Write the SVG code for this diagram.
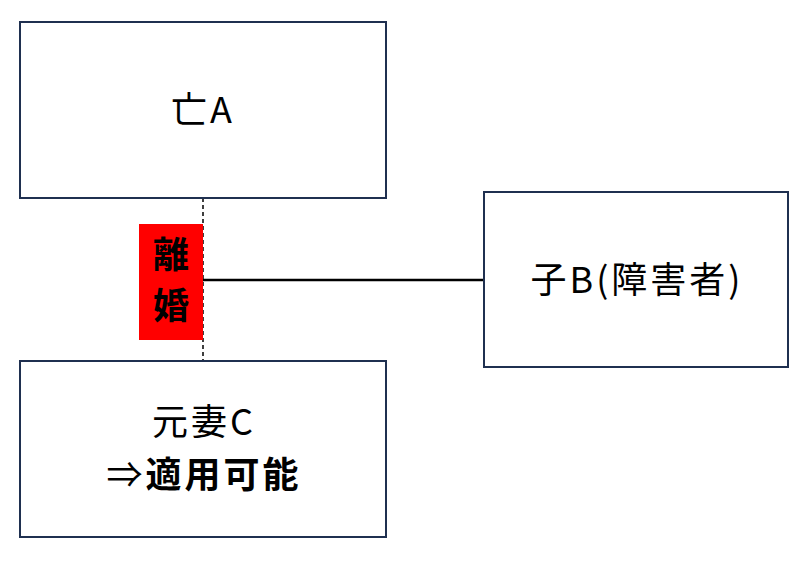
<svg xmlns="http://www.w3.org/2000/svg" width="798" height="574" viewBox="0 0 798 574">
<style>
.box{fill:#fff;stroke:#1f3050;stroke-width:2}
text{font-family:"Noto Sans CJK JP","Noto Sans",sans-serif;font-size:36px;text-anchor:middle;fill:#000;letter-spacing:3px}
.b{font-weight:bold}
</style>
<rect width="798" height="574" fill="#fff"/>
<g id="connectors">
<line x1="203" y1="198" x2="203" y2="361" stroke="#000" stroke-width="1.5" stroke-dasharray="4,3"/>
<line x1="203" y1="280" x2="484" y2="280" stroke="#000" stroke-width="2.5"/>
</g>
<g id="divorce">
<rect x="139" y="224" width="64" height="116" fill="#ff0000"/>
<text class="b" x="171" y="268" style="letter-spacing:0">離</text>
<text class="b" x="171" y="319" style="letter-spacing:0">婚</text>
</g>
<g id="nodeA"><rect class="box" x="20" y="22" width="366" height="176"/><text x="203" y="123">亡A</text></g>
<g id="nodeB"><rect class="box" x="484" y="192" width="304" height="175"/><text x="637" y="293">子B(障害者)</text></g>
<g id="nodeC"><rect class="box" x="20" y="361" width="366" height="176"/><text x="204" y="435">元妻C</text><text x="204" y="488">⇒<tspan class="b">適用可能</tspan></text></g>
</svg>
